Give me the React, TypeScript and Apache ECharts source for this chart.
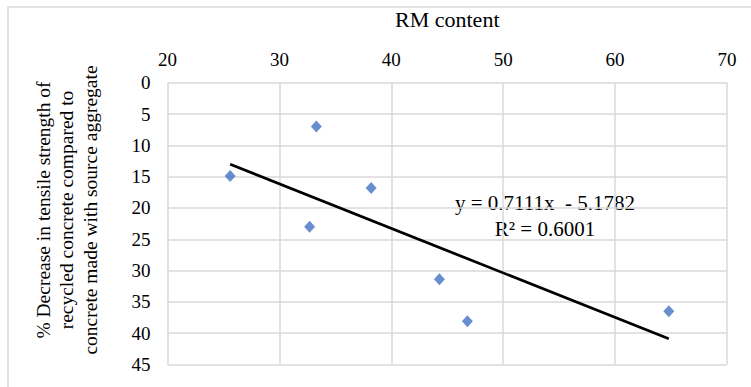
import React, { useEffect, useRef } from "react";
import * as echarts from "echarts";

const rmContent = [25.6, 33.3, 38.2, 32.7, 44.3, 46.8, 64.8];
const decreasePct = [14.9, 7.0, 16.8, 23.0, 31.4, 38.1, 36.5];
const slope = 0.7111;
const intercept = -5.1782;
const xTicks = [20, 30, 40, 50, 60, 70];
const yTicks = [0, 5, 10, 15, 20, 25, 30, 35, 40, 45];
const xTitle = "RM content";
const yTitleLines = [
  "% Decrease in tensile strength of",
  "recycled concrete compared to",
  "concrete made with source aggregate",
];
const eqLabel = "y = 0.7111x  - 5.1782";
const r2Label = "R² = 0.6001";

const FONT = "Liberation Serif";

export default function App() {
  const ref = useRef<HTMLDivElement>(null);
  useEffect(() => {
    if (!ref.current) return;
    const chart = echarts.init(ref.current, null, { renderer: "svg" });
    const pts = rmContent.map((x, i) => [x, decreasePct[i]]);
    const xmin = Math.min(...rmContent);
    const xmax = Math.max(...rmContent);
    const trend = [
      [xmin, slope * xmin + intercept],
      [xmax, slope * xmax + intercept],
    ];
    chart.setOption({
      animation: false,
      backgroundColor: "#ffffff",
      textStyle: { fontFamily: FONT },
      grid: { left: 167.5, right: 24, top: 82.7, bottom: 22.5, containLabel: false },
      xAxis: {
        type: "value",
        position: "top",
        min: xTicks[0],
        max: xTicks[xTicks.length - 1],
        interval: 10,
        name: xTitle,
        nameLocation: "middle",
        nameGap: 52,
        nameTextStyle: { fontFamily: FONT, fontSize: 22, color: "#000" },
        axisLine: { show: false },
        axisTick: { show: false },
        axisLabel: { fontFamily: FONT, fontSize: 19, color: "#000", margin: 14 },
        splitLine: { show: true, lineStyle: { color: "#d9d9d9", width: 1.5 } },
      },
      yAxis: {
        type: "value",
        inverse: true,
        min: yTicks[0],
        max: yTicks[yTicks.length - 1],
        interval: 5,
        axisLine: { show: false },
        axisTick: { show: false },
        axisLabel: { fontFamily: FONT, fontSize: 19, color: "#000", margin: 17 },
        splitLine: { show: true, lineStyle: { color: "#d9d9d9", width: 1.5 } },
      },
      graphic: [
        {
          type: "rect",
          silent: true,
          shape: { x: 8, y: 7, width: 800, height: 420 },
          style: { fill: "none", stroke: "#d9d9d9", lineWidth: 1.5 },
        },
        {
          type: "text",
          x: 66.5,
          y: 210,
          rotation: Math.PI / 2,
          style: {
            text: yTitleLines.join("\n"),
            fontFamily: FONT,
            fontSize: 19.5,
            lineHeight: 23.5,
            fill: "#000",
            textAlign: "center",
            textVerticalAlign: "middle",
          },
        },
        {
          type: "text",
          x: 545,
          y: 216,
          style: {
            text: eqLabel + "\n" + r2Label,
            fontFamily: FONT,
            fontSize: 21,
            lineHeight: 26,
            fill: "#000",
            textAlign: "center",
            textVerticalAlign: "middle",
          },
        },
      ],
      series: [
        {
          type: "line",
          data: trend,
          symbol: "none",
          lineStyle: { color: "#000", width: 2.75 },
          z: 3,
        },
        {
          type: "scatter",
          data: pts,
          symbol: "diamond",
          symbolSize: [11, 12],
          itemStyle: { color: "#4472C4" },
          z: 4,
        },
      ],
    });
    return () => chart.dispose();
  }, []);
  return (
    <div
      ref={ref}
      style={{ position: "fixed", left: 0, top: 0, width: 751, height: 387 }}
    />
  );
}
